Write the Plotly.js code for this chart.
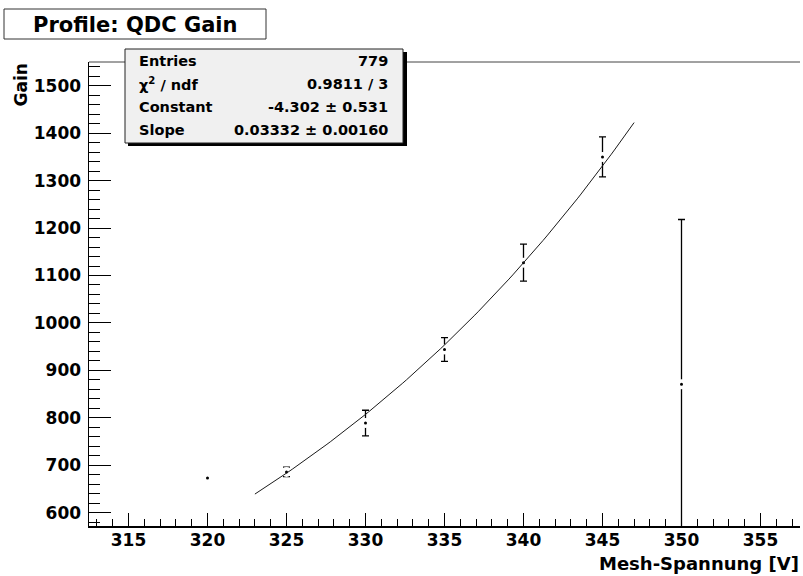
<!DOCTYPE html>
<html>
<head>
<meta charset="utf-8">
<script src="https://cdn.plot.ly/plotly-3.0.1.min.js"></script>
<style>
  html, body { margin: 0; padding: 0; background: #ffffff; }
  #chart { width: 803px; height: 576px; }
</style>
</head>
<body>
<div id="chart"></div>
<script>
// Profile of the QDC gain per mesh voltage bin
const meshVoltage = [320, 325, 330, 335, 340, 345, 350];
const gainMean    = [673, 686, 789, 944, 1127, 1350, 871];
const gainError   = [0, 10, 27, 25, 39, 42, 347];

// Exponential fit: gain = exp(constant + slope * U)
const fitConstant = -4.302;
const fitSlope = 0.03332;
const fitRange = [323, 347];

// Statistics box contents
const statLabels = ['Entries', 'χ<sup>2</sup> / ndf', 'Constant', 'Slope'];
const statValues = ['779', '0.9811 / 3', '-4.302 ± 0.531', '0.03332 ± 0.00160'];

const titleText = 'Profile: QDC Gain';
const xTitle = 'Mesh-Spannung [V]';
const yTitle = 'Gain';

// Evaluate the fit function along its range
const fitX = [];
const fitY = [];
const nFit = 100;
for (let i = 0; i <= nFit; i++) {
  const u = fitRange[0] + (fitRange[1] - fitRange[0]) * i / nFit;
  fitX.push(u);
  fitY.push(Math.exp(fitConstant + fitSlope * u));
}

// Page geometry (pixels) and helpers to place boxes in paper coordinates
const W = 803, H = 576;
const M = { l: 89, r: 3, t: 62, b: 50 };
const plotW = W - M.l - M.r;
const plotH = H - M.t - M.b;
const px = x => (x - M.l) / plotW;
const py = y => (H - M.b - y) / plotH;

const FONT = 'DejaVu Sans';

const traces = [
  {
    x: meshVoltage,
    y: gainMean,
    type: 'scatter',
    mode: 'markers',
    marker: { color: '#000000', size: 6.5, line: { color: '#ffffff', width: 3.5 } },
    error_y: { type: 'data', array: gainError, visible: true, color: '#000000', thickness: 1.3, width: 3.5 },
    hoverinfo: 'x+y',
    showlegend: false
  },
  {
    x: fitX,
    y: fitY,
    type: 'scatter',
    mode: 'lines',
    line: { color: '#1a1a1a', width: 1 },
    hoverinfo: 'skip',
    showlegend: false
  }
];

const shapes = [
  // upper frame edge
  { type: 'line', xref: 'paper', yref: 'paper', x0: 0, x1: 1, y0: 1, y1: 1,
    line: { color: '#444444', width: 1 } },
  // title box
  { type: 'rect', xref: 'paper', yref: 'paper', x0: px(4), x1: px(266), y0: py(39), y1: py(9),
    fillcolor: '#ffffff', line: { color: '#333333', width: 1 } },
  // stats box shadow and body
  { type: 'rect', xref: 'paper', yref: 'paper', x0: px(128), x1: px(407), y0: py(146), y1: py(52),
    fillcolor: '#000000', line: { width: 0 } },
  { type: 'rect', xref: 'paper', yref: 'paper', x0: px(125), x1: px(403), y0: py(143), y1: py(49),
    fillcolor: '#f0f0f0', line: { color: '#222222', width: 1 } }
];

const annotations = [
  { text: titleText, xref: 'paper', yref: 'paper', x: px(31), y: py(25),
    xanchor: 'left', yanchor: 'middle', showarrow: false,
    font: { family: FONT, size: 21, color: '#000000', weight: 'bold' } },
  { text: yTitle, xref: 'paper', yref: 'paper', x: px(20), y: 1,
    xanchor: 'center', yanchor: 'top', textangle: -90, showarrow: false,
    font: { family: FONT, size: 17, color: '#000000', weight: 'bold' } },
  { text: xTitle, xref: 'paper', yref: 'paper', x: px(801), y: py(563),
    xanchor: 'right', yanchor: 'middle', showarrow: false,
    font: { family: FONT, size: 18, color: '#000000', weight: 'bold' } }
];

const rowY = [61, 84, 107, 130];
statLabels.forEach((lab, i) => {
  annotations.push({ text: lab, xref: 'paper', yref: 'paper', x: px(137), y: py(rowY[i]),
    xanchor: 'left', yanchor: 'middle', showarrow: false,
    font: { family: FONT, size: 14.5, color: '#000000', weight: 'bold' } });
  annotations.push({ text: statValues[i], xref: 'paper', yref: 'paper', x: px(390), y: py(rowY[i]),
    xanchor: 'right', yanchor: 'middle', showarrow: false,
    font: { family: FONT, size: 14.5, color: '#000000', weight: 'bold' } });
});

const layout = {
  width: W,
  height: H,
  margin: M,
  paper_bgcolor: '#ffffff',
  plot_bgcolor: '#ffffff',
  showlegend: false,
  xaxis: {
    range: [312.5, 357.5],
    tickmode: 'linear', tick0: 315, dtick: 5,
    ticks: 'inside', ticklen: 13, tickwidth: 1, tickcolor: '#000000',
    minor: { ticks: 'inside', ticklen: 7, tick0: 313, dtick: 1, tickwidth: 1, tickcolor: '#000000', showgrid: false },
    showline: true, linecolor: '#000000', linewidth: 2,
    showgrid: false, zeroline: false,
    ticklabelstandoff: -2,
    tickfont: { family: FONT, size: 17, color: '#000000', weight: 'bold' }
  },
  yaxis: {
    range: [572, 1550],
    tickmode: 'linear', tick0: 600, dtick: 100,
    ticks: 'inside', ticklen: 22, tickwidth: 1, tickcolor: '#000000',
    minor: { ticks: 'inside', ticklen: 11, tick0: 580, dtick: 20, tickwidth: 1, tickcolor: '#000000', showgrid: false },
    showline: true, linecolor: '#000000', linewidth: 1.5,
    showgrid: false, zeroline: false,
    ticklabelstandoff: 3,
    tickfont: { family: FONT, size: 17, color: '#000000', weight: 'bold' }
  },
  shapes: shapes,
  annotations: annotations
};

Plotly.newPlot('chart', traces, layout, { displayModeBar: false, staticPlot: true });
</script>
</body>
</html>
